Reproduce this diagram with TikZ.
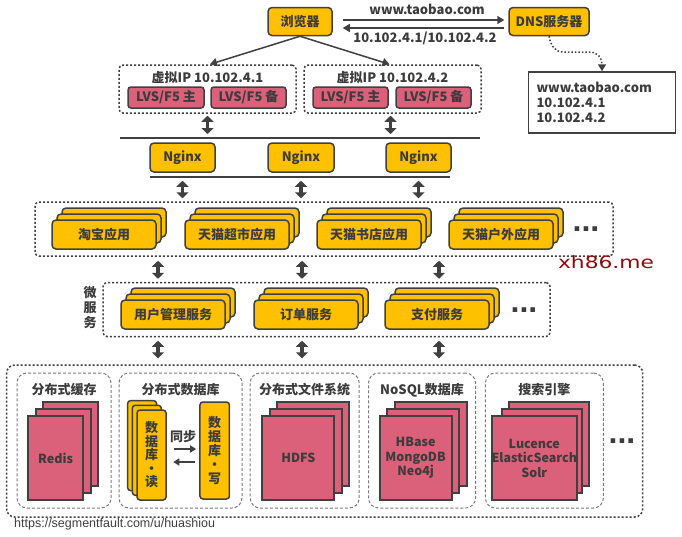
\documentclass[tikz,border=0pt]{standalone}
\usepackage{fontspec}
\setmainfont{Noto Sans CJK SC}
\newfontfamily\urlfont{Liberation Sans}
\newfontfamily\logofont{DejaVu Sans}
\usetikzlibrary{arrows.meta,calc}
\definecolor{ybox}{HTML}{FFC000}
\definecolor{pbox}{HTML}{DB6079}
\definecolor{edgec}{HTML}{404040}
\definecolor{txtc}{HTML}{3C3C3C}
\definecolor{logoc}{HTML}{8E0B0B}
\definecolor{dashc}{HTML}{7A7A7A}
\newcommand\myfs[2]{\fontsize{#1}{#2}\selectfont}
% style, name, cx, cy, w, h, text, dx, dy
\newcommand\mkstack[9]{%
  \node[#1, minimum width=#5pt, minimum height=#6pt] (#2b2) at ({#3+2*(#8)}, {#4+2*(#9)}) {};
  \node[#1, minimum width=#5pt, minimum height=#6pt] (#2b1) at ({#3+(#8)}, {#4+(#9)}) {};
  \node[#1, minimum width=#5pt, minimum height=#6pt, align=center] (#2) at (#3, #4) {#7};
}
\begin{document}
\begin{tikzpicture}[x=1pt,y=-1pt,
  every node/.style={text=txtc, font=\bfseries\myfs{13}{15}, inner sep=0pt},
  ybx/.style={draw=edgec, fill=ybox, line width=1.5pt, rounded corners=4pt},
  pbx/.style={draw=edgec, fill=pbox, line width=1.5pt, rounded corners=3pt},
  pst/.style={draw=edgec, fill=pbox, line width=2pt},
  dotbox/.style={draw=edgec, line width=1.5pt, dash pattern=on 2pt off 2pt, rounded corners=4pt},
  dashbox/.style={draw=dashc, line width=1pt, dash pattern=on 3pt off 2pt, rounded corners=10pt},
  arr/.style={draw=edgec, line width=1.5pt, -{Triangle[width=8pt,length=7pt]}},
  dblarr/.style={draw=edgec, line width=3.5pt, {Triangle[width=12pt,length=6pt]}-{Triangle[width=12pt,length=6pt]}},
  syncarr/.style={draw=edgec, line width=2.5pt, -{Triangle[width=7pt,length=6pt]}},
  bar/.style={draw=edgec, line width=2pt},
  dots/.style={font=\urlfont\bfseries\myfs{32}{32}, anchor=base},
]
\useasboundingbox[fill=white] (0,0) rectangle (682,536);

% ---------- top ----------
\node[ybx, minimum width=64pt, minimum height=28pt] (browser) at (300,21.5) {浏览器};
\node[ybx, minimum width=80pt, minimum height=28pt] (dns) at (549,21.5) {DNS服务器};
\draw[arr] ([xshift=10pt,yshift=1.5pt]browser.east) -- ([xshift=-4pt,yshift=1.5pt]dns.west);
\draw[arr] ([xshift=-4pt,yshift=-6.5pt]dns.west) -- ([xshift=10pt,yshift=-6.5pt]browser.east);
\node (lbl1) at (427,9) {www.taobao.com};
\node (lbl2) at (425,38.5) {10.102.4.1/10.102.4.2};

\node[draw=edgec, line width=1.5pt, minimum width=147pt, minimum height=61pt, text width=131pt, align=left] (dnsres) at (602,102.5) {www.taobao.com\\10.102.4.1\\10.102.4.2};
\draw[draw=edgec, line width=1.5pt, dash pattern=on 1.5pt off 2pt, -{Triangle[width=8pt,length=7pt]}]
  (dns.south) .. controls (551,46) and (555,52) .. (563,52) -- (589,52) .. controls (598,52) and (602,58) .. (dnsres.north);

% ---------- VIP ----------
\node[dotbox, minimum width=177pt, minimum height=48pt] (vip1) at (207.5,89) {};
\node[dotbox, minimum width=177pt, minimum height=48pt] (vip2) at (392.5,89) {};
\node (vip1t) at (207.5,78) {虚拟IP 10.102.4.1};
\node (vip2t) at (392.5,78) {虚拟IP 10.102.4.2};
\node[pbx, minimum width=76pt, minimum height=21pt] (lvs1) at (166,97.5) {LVS/F5 主};
\node[pbx, minimum width=75pt, minimum height=21pt] (lvs2) at (248.5,97.5) {LVS/F5 备};
\node[pbx, minimum width=75pt, minimum height=21pt] (lvs3) at (350.5,97.5) {LVS/F5 主};
\node[pbx, minimum width=75pt, minimum height=21pt] (lvs4) at (433.5,97.5) {LVS/F5 备};
\draw[arr] (browser.south) -- ([xshift=2.5pt]vip1.north);
\draw[arr] (browser.south) -- ([xshift=-3pt]vip2.north);

% ---------- Nginx ----------
\coordinate (l1a) at (120,137.5);
\coordinate (l1b) at (480,137.5);
\draw[bar] (l1a) -- (l1b);
\draw[dblarr] ($(vip1.south)+(0,2)$) -- ($(vip1.south |- l1a)+(0,-3.5)$);
\draw[dblarr] ($(vip2.south)+(-2,2)$) -- ($(vip2.south |- l1a)+(-2,-3.5)$);
\node[ybx, minimum width=65pt, minimum height=29pt] (ng1) at (182.5,157.5) {Nginx};
\node[ybx, minimum width=66pt, minimum height=29pt] (ng2) at (301,157.5) {Nginx};
\node[ybx, minimum width=65pt, minimum height=29pt] (ng3) at (418.5,157.5) {Nginx};
\coordinate (l2a) at (150,177);
\coordinate (l2b) at (450,177);
\draw[bar] (l2a) -- (l2b);

% ---------- apps ----------
\node[dotbox, minimum width=578pt, minimum height=54pt] (apps) at (324,229) {};
\draw[dblarr] ($(ng1.south)+(0,8)$) -- ($(apps.north -| ng1.south)+(0,-3)$);
\draw[dblarr] ($(ng2.south)+(0,8)$) -- ($(apps.north -| ng2.south)+(0,-3)$);
\draw[dblarr] ($(ng3.south)+(0,8)$) -- ($(apps.north -| ng3.south)+(0,-3)$);
\mkstack{ybx}{app1}{104}{234.5}{104}{29}{淘宝应用}{5}{-6}
\mkstack{ybx}{app2}{237}{234.5}{104}{29}{天猫超市应用}{5}{-6}
\mkstack{ybx}{app3}{369}{234.5}{104}{29}{天猫书店应用}{5}{-6}
\mkstack{ybx}{app4}{501}{234.5}{104}{29}{天猫户外应用}{5}{-6}
\node[dots] (appdots) at (586,231) {...};

\node[font=\logofont\myfs{17}{17}, text=logoc, anchor=base] (logo) at (606,268) {\scalebox{1.28}[1]{xh86.me}};

% ---------- micro services ----------
\node[dotbox, minimum width=447pt, minimum height=54pt] (msbox) at (326.5,309.5) {};
\node[align=center, font=\bfseries\myfs{13}{15}] (mslbl) at (90,308) {微\\服\\务};
\draw[dblarr] ($(apps.south)+(-166,4)$) -- ($(msbox.north)+(-168.5,-3)$);
\draw[dblarr] ($(apps.south)+(-22,4)$) -- ($(msbox.north)+(-24.5,-3)$);
\draw[dblarr] ($(apps.south)+(115,4)$) -- ($(msbox.north)+(112.5,-3)$);
\mkstack{ybx}{ms1}{173}{314.5}{104}{29}{用户管理服务}{5}{-6}
\mkstack{ybx}{ms2}{306}{314.5}{104}{29}{订单服务}{5}{-6}
\mkstack{ybx}{ms3}{437}{314.5}{104}{29}{支付服务}{5}{-6}
\node[dots] (msdots) at (524,312) {...};

% ---------- storage ----------
\node[dotbox, rounded corners=8pt, minimum width=636pt, minimum height=152pt] (store) at (324.7,441) {};
\draw[dblarr] ($(msbox.south)+(-168.5,3.5)$) -- ($(store.north)+(-166.7,-6)$);
\draw[dblarr] ($(msbox.south)+(-24.5,3.5)$) -- ($(store.north)+(-22.7,-6)$);
\draw[dblarr] ($(msbox.south)+(112.5,3.5)$) -- ($(store.north)+(114.3,-6)$);

\node[dashbox, minimum width=94pt, minimum height=135pt] (c1) at (64,440.5) {};
\node[dashbox, minimum width=123pt, minimum height=135pt] (c2) at (180.5,440.5) {};
\node[dashbox, minimum width=109pt, minimum height=135pt] (c3) at (304.7,440.5) {};
\node[dashbox, minimum width=107pt, minimum height=135pt] (c4) at (422,440.5) {};
\node[dashbox, minimum width=118pt, minimum height=135pt] (c5) at (544.4,440.5) {};
\node (c1t) at (64,390) {分布式缓存};
\node (c2t) at (180.5,390) {分布式数据库};
\node (c3t) at (304.7,390) {分布式文件系统};
\node (c4t) at (422,390) {NoSQL数据库};
\node (c5t) at (544.4,390) {搜索引擎};

\mkstack{pst,font=\bfseries\myfs{12.5}{14.5}}{redis}{55.5}{458}{55}{84}{Redis}{7.5}{-7}
\mkstack{pst,font=\bfseries\myfs{12.5}{14.5}}{hdfs}{298.4}{458}{72}{84}{HDFS}{7.5}{-7}
\mkstack{pst,font=\bfseries\myfs{12.5}{14.5}}{nosql}{415.6}{458}{72}{84}{HBase\\MongoDB\\Neo4j}{7.5}{-7}
\mkstack{pst,font=\bfseries\myfs{12.5}{14.5}}{search}{534.3}{458}{80}{84}{Lucence\\ElasticSearch\\Solr}{7.5}{-7}

\mkstack{ybx,rounded corners=3pt,font=\bfseries\myfs{13}{13.5}}{rd}{151.5}{455}{29}{90}{数\\据\\库\\·\\读}{-4.7}{-4.7}
\node[ybx, rounded corners=3pt, font=\bfseries\myfs{13}{14}, minimum width=29.5pt, minimum height=97pt, align=center] (wr) at (214.7,450.5) {数\\据\\库\\·\\写};
\node (synct) at (183,437) {同步};
\draw[syncarr] ([xshift=7pt,yshift=6pt]rd.east) -- ([xshift=-3pt]wr.west |- {0,449});
\draw[syncarr] ([xshift=-4.5pt]wr.west |- {0,462}) -- ([xshift=6.5pt,yshift=-7pt]rd.east);
\node[dots] (stdots) at (622,443) {...};

\node[font=\urlfont\myfs{12.5}{12.5}, text=edgec, anchor=west] (url) at (14,524) {https://segmentfault.com/u/huashiou};
\end{tikzpicture}
\end{document}
